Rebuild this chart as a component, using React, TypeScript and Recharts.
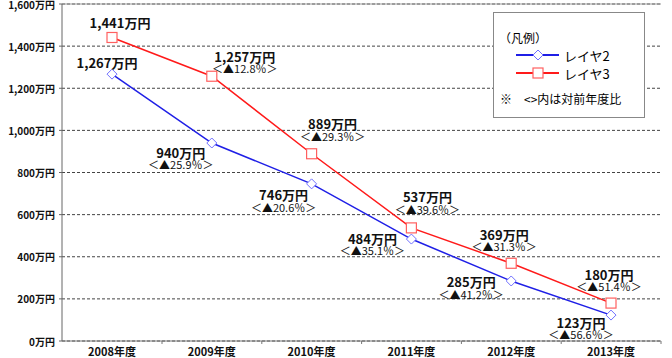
import {
  LineChart,
  Line,
  XAxis,
  YAxis,
  CartesianGrid,
  Legend,
  ReferenceLine,
} from "recharts";

const years = ["2008年度", "2009年度", "2010年度", "2011年度", "2012年度", "2013年度"];
const layer2 = [1267, 940, 746, 484, 285, 123];
const layer3 = [1441, 1257, 889, 537, 369, 180];
const layer2Pct = ["", "25.9", "20.6", "35.1", "41.2", "56.6"];
const layer3Pct = ["", "12.8", "29.3", "39.6", "31.3", "51.4"];
const yTicks = [0, 200, 400, 600, 800, 1000, 1200, 1400, 1600];

// label placement relative to each point (dx, dy of first line)
const layer2LabelPos = [[-5, -12], [-31, 9], [-28, 11], [-39, -1], [-40, 1], [-30, 7]];
const layer3LabelPos = [[8, -15], [33, -20], [21, -30], [16, -31], [-7, -29], [-2, -29]];

const data = years.map((year, i) => ({
  year,
  layer2: layer2[i],
  layer3: layer3[i],
}));

const FONT = "'Noto Sans CJK JP', 'Noto Sans', sans-serif";
const BLUE = "#1f1fe6";
const RED = "#ff1a1a";

const fmtYen = (v: number) => `${v.toLocaleString("en-US")}万円`;

function Diamond(props: any) {
  const { cx, cy } = props;
  if (cx == null || cy == null) return null;
  const r = 5;
  return (
    <path
      d={`M${cx},${cy - r} L${cx + r},${cy} L${cx},${cy + r} L${cx - r},${cy} Z`}
      fill="#fff"
      stroke="#7070ff"
      strokeWidth={1}
    />
  );
}

function Square(props: any) {
  const { cx, cy } = props;
  if (cx == null || cy == null) return null;
  return (
    <rect x={cx - 5} y={cy - 5} width={10} height={10} fill="#fff" stroke="#ff6060" strokeWidth={1.2} />
  );
}

function makeLabel(values: number[], pcts: string[], pos: number[][]) {
  return (props: any) => {
    const { x, y, index } = props;
    if (x == null || y == null) return null;
    const [dx, dy] = pos[index];
    return (
      <g key={`lbl-${index}`} fontFamily={FONT}>
        <text
          x={x + dx}
          y={y + dy}
          textAnchor="middle"
          dominantBaseline="central"
          fontSize={13}
          fontWeight="bold"
          fill="#111"
        >
          {fmtYen(values[index])}
        </text>
        {pcts[index] && (
          <text
            x={x + dx}
            y={y + dy + 12}
            textAnchor="middle"
            dominantBaseline="central"
            fontSize={11}
            fill="#111"
          >
            {`＜▲${pcts[index]}％＞`}
          </text>
        )}
      </g>
    );
  };
}

function LegendBox() {
  return (
    <div
      style={{
        width: 152,
        height: 106,
        boxSizing: "border-box",
        border: "1px solid #888",
        background: "#fff",
        fontFamily: FONT,
        color: "#111",
      }}
    >
      <svg width={150} height={104}>
        <text x={5} y={24} fontSize={12} dominantBaseline="central">（凡例）</text>
        <line x1={22} y1={42} x2={65} y2={42} stroke={BLUE} strokeWidth={2} />
        <Diamond cx={44} cy={42} />
        <text x={70} y={42} fontSize={13} dominantBaseline="central">レイヤ2</text>
        <line x1={22} y1={60} x2={65} y2={60} stroke={RED} strokeWidth={2} />
        <Square cx={44} cy={60} />
        <text x={70} y={60} fontSize={13} dominantBaseline="central">レイヤ3</text>
        <text x={6} y={85} fontSize={12} dominantBaseline="central">※　&lt;&gt;内は対前年度比</text>
      </svg>
    </div>
  );
}

function XTick(props: any) {
  const { x, y, payload } = props;
  return (
    <g>
      <line x1={x + 50} y1={y - 8} x2={x + 50} y2={y - 5} stroke="#777" />
      <text x={x} y={y + 2} textAnchor="middle" dominantBaseline="central" fontSize={11} fontWeight="bold" fontFamily={FONT} fill="#111">
        {payload.value}
      </text>
    </g>
  );
}

function YTick(props: any) {
  const { x, y, payload } = props;
  return (
    <text x={x - 2} y={y} textAnchor="end" dominantBaseline="central" fontSize={10} fontWeight="bold" fontFamily={FONT} fill="#111">
      {fmtYen(payload.value)}
    </text>
  );
}

export default function App() {
  return (
    <div style={{ position: "absolute", left: 0, top: 0, width: 672, height: 358, background: "#fff" }}>
      <LineChart width={672} height={358} data={data} margin={{ top: 4, right: 11, bottom: 0, left: 0 }}>
        <CartesianGrid vertical={false} stroke="#444" strokeDasharray="3 2" />
        <ReferenceLine y={1600} stroke="#999" strokeWidth={1} />
        <XAxis
          dataKey="year"
          axisLine={{ stroke: "#777" }}
          tickLine={false}
          tick={<XTick />}
          height={17}
          interval={0}
          padding={{ left: 50, right: 50 }}
        />
        <YAxis
          domain={[0, 1600]}
          ticks={yTicks}
          width={62}
          axisLine={{ stroke: "#666" }}
          tickLine={{ stroke: "#666" }}
          tickSize={3}
          tick={<YTick />}
          interval={0}
        />
        <YAxis
          yAxisId="frame"
          orientation="right"
          width={0}
          domain={[0, 1600]}
          tick={false}
          tickLine={false}
          axisLine={{ stroke: "#999" }}
        />
        <Legend
          layout="horizontal"
          verticalAlign="middle"
          align="center"
          wrapperStyle={{ position: "absolute", left: 493, top: 12, width: 152, height: 106 }}
          content={() => <LegendBox />}
        />
        <Line
          dataKey="layer2"
          stroke={BLUE}
          strokeWidth={1.5}
          dot={<Diamond />}
          activeDot={false}
          isAnimationActive={false}
          label={makeLabel(layer2, layer2Pct, layer2LabelPos)}
        />
        <Line
          dataKey="layer3"
          stroke={RED}
          strokeWidth={1.5}
          dot={<Square />}
          activeDot={false}
          isAnimationActive={false}
          label={makeLabel(layer3, layer3Pct, layer3LabelPos)}
        />
      </LineChart>
    </div>
  );
}
